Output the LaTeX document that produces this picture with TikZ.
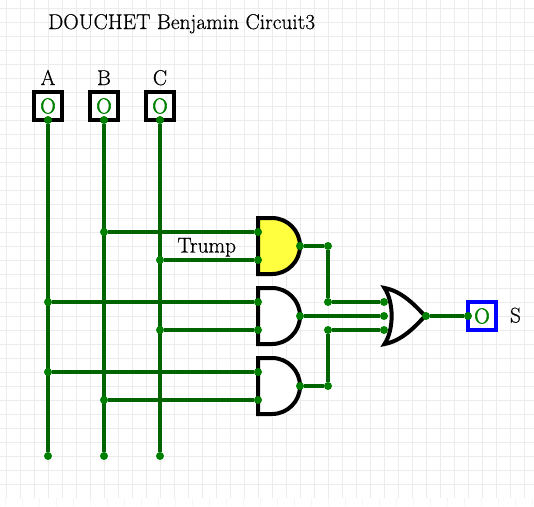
\documentclass[tikz,border=0pt]{standalone}
\usepackage{fontspec}
\usepackage{tikz}
\newfontfamily\lblfont{Latin Modern Roman}[RawFeature={embolden=0.5}]
\newfontfamily\valfont{Latin Modern Roman}[RawFeature={embolden=2.5}]
\definecolor{wiregreen}{RGB}{0,100,0}
\definecolor{pingreen}{RGB}{0,128,0}
\definecolor{gridgray}{RGB}{236,236,236}
\definecolor{tickgray}{RGB}{246,246,246}
\definecolor{gateyellow}{RGB}{255,255,64}
\pgfdeclarelayer{pins}
\pgfsetlayers{main,pins}
\tikzstyle{pin} = [circle, fill=pingreen, inner sep=0pt, minimum size=8pt]
\tikzstyle{wire} = [draw=wiregreen, line width=4pt]
\tikzstyle{gate} = [draw=black, line width=4pt, fill=white, miter limit=10]
\tikzstyle{iobox} = [rectangle, draw, line width=4pt, fill=white, minimum size=28pt,
    inner sep=0pt, text=pingreen, font=\valfont\fontsize{21.4}{24}\selectfont]
\tikzstyle{lbl} = [inner sep=0pt, anchor=base, font=\lblfont\fontsize{21.4}{24}\selectfont]
% and gate, #1 = left middle point, #2 = fill
\newcommand{\andgate}[2]{
  \path [gate, fill=#2] (#1) ++(0,-28) -- ++(14,0)
    arc [start angle=90, end angle=-90, x radius=28, y radius=-28]
    -- ++(-14,0) -- cycle;
}
\begin{document}
\begin{tikzpicture}[x=1pt, y=-1pt]
  \useasboundingbox (0,0) rectangle (534,506);
  \fill [white] (0,0) rectangle (534,506);

  \foreach \gx in {6.5,20.5,...,524.5}
    \draw [gridgray, line width=1pt] (\gx,0) -- (\gx,498);
  \foreach \gy in {8.7,22.7,...,498}
    \draw [gridgray, line width=1pt] (0,\gy) -- (534,\gy);
  \foreach \gx in {5,22,...,532}
    \draw [tickgray, line width=1pt] (\gx,498) -- (\gx,506);

  \node [lbl, anchor=base west] (title) at (48,29) {DOUCHET Benjamin Circuit3};

  \node [iobox, draw=black] (boxa) at (48,106) {O};
  \node [iobox, draw=black] (boxb) at (104,106) {O};
  \node [iobox, draw=black] (boxc) at (160,106) {O};
  \node [iobox, draw=blue] (boxs) at (482,316) {O};
  \node [lbl] (lbla) at (48,85) {A};
  \node [lbl] (lblb) at (104,85) {B};
  \node [lbl] (lblc) at (160,85) {C};
  \node [lbl] (lbls) at (515.5,322.5) {S};

  \andgate{258,246}{gateyellow}
  \andgate{258,316}{white}
  \andgate{258,386}{white}
  \path [gate] (384.5,288) .. controls (401,291) and (414,304) .. (425,316)
    .. controls (414,328) and (401,341) .. (384.5,344)
    .. controls (394,330) and (394,302) .. (384.5,288) -- cycle;

  \node [lbl] (trump) at (206.7,252.5) {Trump};

  \begin{pgfonlayer}{pins}
  % inputs
  \node [pin] (atop) at (48,120) {};
  \node [pin] (abot) at (48,456) {};
  \node [pin] (btop) at (104,120) {};
  \node [pin] (bbot) at (104,456) {};
  \node [pin] (ctop) at (160,120) {};
  \node [pin] (cbot) at (160,456) {};
  \node [pin] (j1) at (104,232) {};
  \node [pin] (j2) at (160,260) {};
  \node [pin] (j3) at (48,302) {};
  \node [pin] (j4) at (160,330) {};
  \node [pin] (j5) at (48,372) {};
  \node [pin] (j6) at (104,400) {};
  \node [pin] (a1) at (258,232) {};
  \node [pin] (a2) at (258,260) {};
  \node [pin] (b1) at (258,302) {};
  \node [pin] (b2) at (258,330) {};
  \node [pin] (c1) at (258,372) {};
  \node [pin] (c2) at (258,400) {};
  % outputs
  \node [pin] (ao) at (300,246) {};
  \node [pin] (bo) at (300,316) {};
  \node [pin] (co) at (300,386) {};
  \node [pin] (k1) at (328,246) {};
  \node [pin] (k2) at (328,302) {};
  \node [pin] (k3) at (328,330) {};
  \node [pin] (k4) at (328,386) {};
  \node [pin] (o1) at (384,302) {};
  \node [pin] (o2) at (384,316) {};
  \node [pin] (o3) at (384,330) {};
  \node [pin] (oo) at (426,316) {};
  \node [pin] (si) at (468,316) {};
  \end{pgfonlayer}

  \path [wire] (atop) -- (abot);
  \path [wire] (btop) -- (bbot);
  \path [wire] (ctop) -- (cbot);
  \path [wire] (j1) -- (a1);
  \path [wire] (j2) -- (a2);
  \path [wire] (j3) -- (b1);
  \path [wire] (j4) -- (b2);
  \path [wire] (j5) -- (c1);
  \path [wire] (j6) -- (c2);
  \path [wire] (ao) -- (k1);
  \path [wire] (k1) -- (k2);
  \path [wire] (k2) -- (o1);
  \path [wire] (bo) -- (o2);
  \path [wire] (co) -- (k4);
  \path [wire] (k4) -- (k3);
  \path [wire] (k3) -- (o3);
  \path [wire] (oo) -- (si);

\end{tikzpicture}
\end{document}
